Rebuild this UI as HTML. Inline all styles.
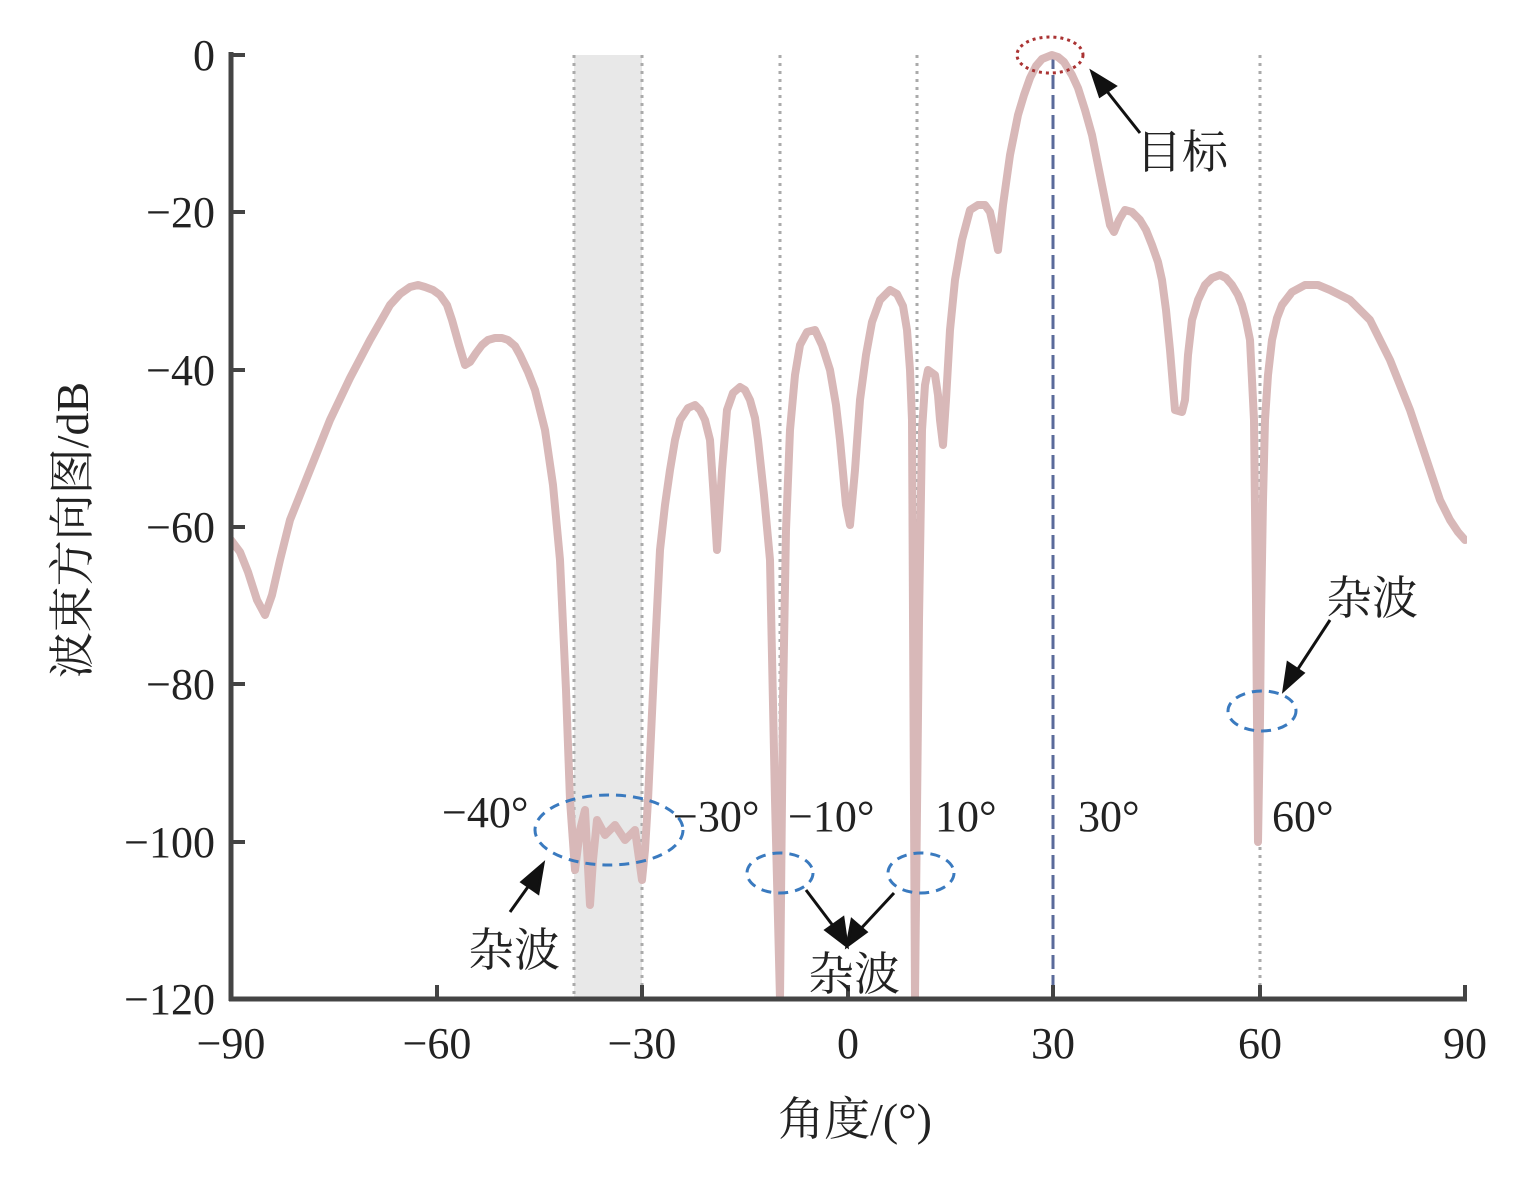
<!DOCTYPE html>
<html><head><meta charset="utf-8"><style>html,body{margin:0;padding:0;background:#fff}svg{display:block}</style></head>
<body>
<svg width="1532" height="1200" viewBox="0 0 1532 1200" xmlns="http://www.w3.org/2000/svg" font-family="'Liberation Serif','Noto Serif CJK SC',serif">
<defs><clipPath id="c"><rect x="231" y="40" width="1236" height="959"/></clipPath></defs>
<rect x="574" y="55" width="68" height="944" fill="#e8e8e8"/>
<g stroke="#aaa" stroke-width="3" stroke-dasharray="3,5">
<line x1="574" y1="55" x2="574" y2="999"/><line x1="642" y1="55" x2="642" y2="999"/>
<line x1="780" y1="55" x2="780" y2="999"/><line x1="917" y1="55" x2="917" y2="999"/>
<line x1="1260" y1="55" x2="1260" y2="999"/>
</g>
<line x1="1053" y1="55" x2="1053" y2="999" stroke="#5a6a9a" stroke-width="3" stroke-dasharray="14,6"/>
<polyline clip-path="url(#c)" fill="none" stroke="#d8b8b8" stroke-width="8" stroke-linejoin="round" stroke-linecap="round" points="231,540 240,552 248,572 257,600 265,615 272,595 280,560 290,520 310,470 330,420 350,378 370,340 390,305 400,294 410,287 418,285 425,287 433,290 440,295 447,305 452,320 459,345 465,365 470,362 476,353 482,345 488,340 495,338 502,338 508,340 515,346 520,355 528,372 535,390 545,430 553,485 560,560 566,690 570,800 575,870 580,830 585,810 590,905 593,860 597,820 605,835 615,825 625,840 635,830 642,880 645,850 648,800 654,670 660,550 665,505 670,470 675,440 680,420 688,408 695,405 700,410 705,420 710,440 714,500 717,550 722,470 727,410 733,393 740,387 745,390 750,400 755,418 758,440 764,495 770,560 775,800 780,999 783,700 786,530 790,430 795,375 800,345 807,332 815,330 822,345 830,370 836,405 840,440 846,505 850,525 855,470 860,400 866,355 872,322 880,300 890,290 897,294 903,306 907,330 910,370 912,420 915,999 919,620 922,430 925,385 928,370 935,375 938,395 940,420 943,445 946,400 950,330 955,280 962,240 970,210 978,205 985,205 990,212 993,225 998,250 1003,205 1010,155 1018,115 1024,95 1030,78 1036,66 1042,59 1052,55 1058,57 1064,62 1072,75 1078,88 1085,110 1092,135 1098,165 1104,195 1110,225 1114,232 1119,220 1125,210 1132,212 1140,220 1146,230 1152,245 1158,262 1162,280 1166,310 1170,350 1175,410 1182,412 1185,400 1188,355 1192,320 1198,300 1205,285 1212,278 1220,275 1226,278 1232,285 1238,295 1242,305 1246,320 1250,340 1254,420 1256,600 1258,842 1260,720 1261,620 1263,500 1265,420 1268,375 1272,340 1277,318 1282,305 1292,292 1305,285 1318,285 1330,290 1350,300 1370,320 1390,360 1410,410 1425,455 1440,500 1450,520 1458,532 1465,540"/>
<g stroke="#444" stroke-width="5" fill="none">
<line x1="231" y1="52" x2="231" y2="1001"/><line x1="229" y1="999" x2="1467" y2="999"/>
</g>
<g stroke="#444" stroke-width="4">
<line x1="231" y1="55" x2="245" y2="55"/><line x1="231" y1="212" x2="245" y2="212"/><line x1="231" y1="370" x2="245" y2="370"/><line x1="231" y1="527" x2="245" y2="527"/><line x1="231" y1="684" x2="245" y2="684"/><line x1="231" y1="842" x2="245" y2="842"/>
<line x1="437" y1="999" x2="437" y2="985"/><line x1="642" y1="999" x2="642" y2="985"/><line x1="848" y1="999" x2="848" y2="985"/><line x1="1053" y1="999" x2="1053" y2="985"/><line x1="1260" y1="999" x2="1260" y2="985"/><line x1="1465" y1="999" x2="1465" y2="985"/>
</g>
<g font-size="44" fill="#222" text-anchor="end">
<text x="215" y="70">0</text><text x="215" y="227">−20</text><text x="215" y="385">−40</text><text x="215" y="542">−60</text><text x="215" y="699">−80</text><text x="215" y="857">−100</text><text x="215" y="1014">−120</text>
</g>
<g font-size="44" fill="#222" text-anchor="middle">
<text x="231" y="1058">−90</text><text x="437" y="1058">−60</text><text x="642" y="1058">−30</text><text x="848" y="1058">0</text><text x="1053" y="1058">30</text><text x="1260" y="1058">60</text><text x="1465" y="1058">90</text>
<text x="855" y="1135" font-size="46">角度/(°)</text>
</g>
<text transform="translate(88,530) rotate(-90)" font-size="46" fill="#222" text-anchor="middle">波束方向图/dB</text>
<g font-size="44" fill="#222">
<text x="442" y="827">−40°</text><text x="673" y="831">−30°</text><text x="788" y="831">−10°</text><text x="935" y="831">10°</text><text x="1078" y="831">30°</text><text x="1272" y="831">60°</text>
</g>
<g font-size="46" fill="#222">
<text x="1136" y="168">目标</text><text x="1326" y="614">杂波</text><text x="468" y="966">杂波</text><text x="808" y="990">杂波</text>
</g>
<g fill="none" stroke="#3a7abf" stroke-width="3" stroke-dasharray="10,7">
<ellipse cx="609" cy="830" rx="74" ry="35"/><ellipse cx="780" cy="873" rx="33" ry="20"/><ellipse cx="921" cy="873" rx="33" ry="20"/><ellipse cx="1262" cy="711" rx="34" ry="20"/>
</g>
<ellipse cx="1050" cy="55" rx="33" ry="18" fill="none" stroke="#a33" stroke-width="3" stroke-dasharray="3,4"/>
<g stroke="#111" stroke-width="3" fill="#111">
<line x1="1140" y1="133" x2="1102" y2="85"/><polygon points="1092,72 1115,86 1100,96"/>
<line x1="1330" y1="620" x2="1294" y2="675"/><polygon points="1284,690 1288,663 1303,673"/>
<line x1="510" y1="912" x2="535" y2="877"/><polygon points="543,864 538,893 522,882"/>
<line x1="806" y1="890" x2="840" y2="935"/><polygon points="847,946 826,930 843,918"/>
<line x1="894" y1="893" x2="855" y2="935"/><polygon points="847,946 852,920 866,932"/>
</g>
</svg>
</body></html>
